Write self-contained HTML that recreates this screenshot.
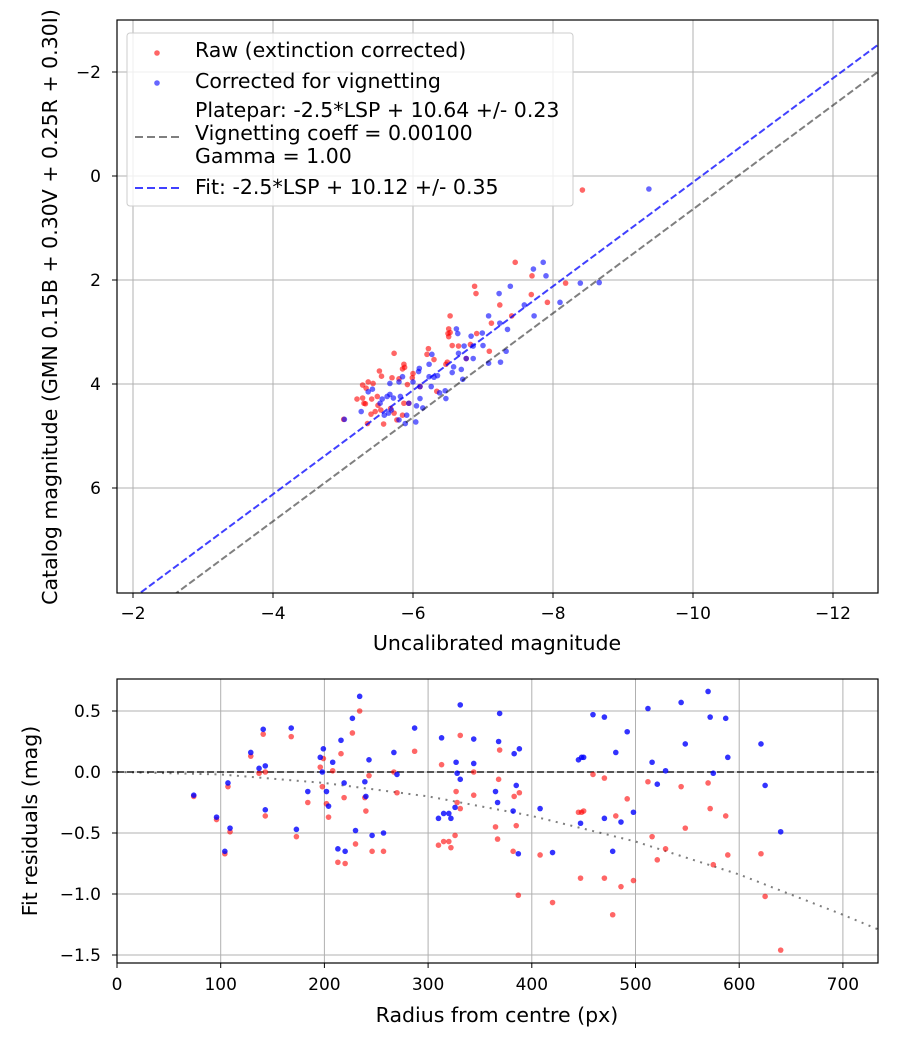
<!DOCTYPE html>
<html><head><meta charset="utf-8"><style>
body{margin:0;background:#fff}
svg{display:block;font-family:"DejaVu Sans","Liberation Sans",sans-serif}
</style></head><body>
<svg id="fig" width="900" height="1050" viewBox="0 0 900 1050">
<g id="top"></g>
<g id="bot"></g>
</svg>
<script>
const NS="http://www.w3.org/2000/svg";
// ---- top chart data ----
const redX=[-7.46,-7.70,-7.69,-6.88,-6.90,-7.24,-7.92,-8.18,-7.41,-7.12,-6.53,-6.51,-6.53,-6.50,-6.51,-6.91,-6.56,-6.65,-6.82,-7.09,-6.76,-6.22,-6.20,-6.30,-5.73,-6.49,-6.47,-5.87,-5.85,-5.88,-5.52,-5.55,-5.70,-6.00,-5.99,-5.43,-5.36,-5.28,-5.33,-5.92,-5.80,-6.10,-6.34,-5.20,-5.28,-5.30,-5.41,-5.49,-5.50,-5.54,-5.32,-5.68,-5.40,-5.46,-5.87,-5.01,-5.77,-5.58,-5.35,-5.85,-5.94,-5.73,-8.42];
const redY=[1.66,1.92,2.28,2.12,2.26,2.48,2.43,2.06,2.69,2.83,2.69,2.94,3.01,3.03,3.09,3.03,3.26,3.27,3.24,3.37,3.51,3.32,3.43,3.53,3.41,3.58,3.62,3.62,3.71,3.68,3.75,3.85,3.88,3.80,3.88,3.99,3.96,4.02,4.08,4.01,3.90,4.05,4.14,4.29,4.27,4.37,4.29,4.24,4.41,4.50,4.38,4.47,4.58,4.53,4.37,4.68,4.69,4.77,4.76,4.60,4.37,4.56,0.27];
const blueX=[-7.86,-7.72,-7.90,-8.39,-8.10,-7.39,-7.23,-7.73,-7.59,-7.08,-7.24,-7.35,-6.62,-6.64,-6.99,-6.83,-6.73,-6.86,-7.00,-6.65,-6.76,-6.86,-6.23,-6.27,-6.09,-6.08,-6.58,-6.56,-6.69,-6.35,-6.30,-6.23,-7.08,-7.25,-7.33,-6.71,-5.85,-5.80,-5.67,-6.00,-6.10,-6.26,-6.38,-6.47,-6.46,-5.42,-5.36,-5.67,-5.63,-5.72,-5.56,-5.53,-5.82,-5.94,-6.10,-6.14,-6.05,-5.91,-6.04,-5.80,-5.69,-5.59,-5.65,-5.26,-5.02,-5.89,-9.37,-8.66];
const blueY=[1.66,1.79,1.92,2.06,2.43,2.12,2.26,2.69,2.48,2.69,2.83,2.95,2.94,3.03,3.02,3.08,3.27,3.27,3.26,3.41,3.51,3.51,3.62,3.43,3.70,3.76,3.67,3.78,3.72,3.84,3.87,3.86,3.60,3.58,3.37,3.91,3.86,3.96,3.99,3.96,4.05,4.05,4.17,4.28,4.13,4.10,4.15,4.20,4.24,4.27,4.29,4.37,4.24,4.37,4.28,4.46,4.42,4.60,4.73,4.69,4.50,4.60,4.56,4.53,4.68,4.76,0.25,2.05];
const platepar=[10.64];
const fitOffset=[10.12];
const topXTicks=[-2,-4,-6,-8,-10,-12];
const topYTicks=[-2,0,2,4,6];
// ---- bottom chart data ----
const resR=[74,96,104,107,109,129,137,141,143,143,168,173,184,196,199,198,208,202,204,216,227,234,243,239,240,230,246,213,220,219,257,267,287,270,331,313,344,327,344,328,331,326,310,315,320,322,369,368,365,367,383,388,385,382,387,408,420,445,448,450,459,470,447,470,478,481,486,492,512,544,570,572,587,548,516,529,521,575,589,621,625,640,498];
const resBlue=[-0.19,-0.37,-0.65,-0.09,-0.46,0.16,0.03,0.35,0.05,-0.31,0.36,-0.47,-0.16,0.12,0.19,0.0,0.08,-0.16,-0.28,0.26,0.44,0.62,0.10,-0.08,-0.20,-0.48,-0.52,-0.63,-0.65,-0.09,-0.50,0.16,0.36,-0.02,0.55,0.28,0.27,0.08,0.07,-0.01,-0.06,-0.29,-0.38,-0.34,-0.34,-0.38,0.48,0.25,-0.16,-0.25,0.15,0.19,-0.11,-0.32,-0.67,-0.30,-0.66,0.10,0.12,0.12,0.47,0.45,-0.42,-0.38,-0.65,0.16,-0.41,0.33,0.52,0.57,0.66,0.45,0.44,0.23,0.08,0.01,-0.10,-0.01,0.12,0.23,-0.11,-0.49,-0.33];
const resRed=[-0.20,-0.39,-0.67,-0.12,-0.49,0.13,-0.01,0.31,0.0,-0.36,0.29,-0.53,-0.25,0.04,0.11,-0.12,0.01,-0.26,-0.37,0.15,0.32,0.50,-0.03,-0.21,-0.32,-0.59,-0.65,-0.74,-0.75,-0.21,-0.65,0.0,0.17,-0.17,0.30,0.06,0.0,-0.16,-0.19,-0.25,-0.30,-0.52,-0.60,-0.57,-0.57,-0.62,0.18,-0.06,-0.45,-0.55,-0.20,-0.17,-0.44,-0.65,-1.01,-0.68,-1.07,-0.33,-0.33,-0.32,-0.02,-0.05,-0.87,-0.87,-1.17,-0.36,-0.94,-0.22,-0.08,-0.12,-0.09,-0.30,-0.36,-0.46,-0.53,-0.63,-0.72,-0.76,-0.68,-0.67,-1.02,-1.46,-0.89];
const vigR=[0,100,200,300,400,500,600,700,734];
const vigY=[0,-0.02,-0.09,-0.2,-0.36,-0.57,-0.84,-1.17,-1.29];
const botXTicks=[0,100,200,300,400,500,600,700];
const botYTicks=[0.5,0,-0.5,-1.0,-1.5];
const botYLabels=["0.5","0.0","\u22120.5","\u22121.0","\u22121.5"];

function mk(p,tag,a,txt){const e=document.createElementNS(NS,tag);for(const k in a)e.setAttribute(k,a[k]);if(txt!==undefined)e.textContent=txt;p.appendChild(e);return e;}
const fmtNeg=v=>(v<0?"\u2212":"")+Math.abs(v);
const FS=17, TS=20.5;

// ===== TOP =====
const T=document.getElementById('top');
const tL=117,tR=878,tT=20,tB=593;
const tx=v=>-7-70*v;
const ty=v=>176+52*v;
const tcp=mk(T,'clipPath',{id:'ct'});mk(tcp,'rect',{x:tL,y:tT,width:tR-tL,height:tB-tT});
topXTicks.forEach(v=>{const g=mk(T,'line',{x1:tx(v),x2:tx(v),y1:tT,y2:tB,stroke:'#b0b0b0','stroke-width':1});

mk(T,'line',{x1:tx(v),x2:tx(v),y1:tB,y2:tB+5,stroke:'#000'});
const t=mk(T,'text',{x:tx(v),y:tB+26,'text-anchor':'middle','font-size':FS},fmtNeg(v));
});
topYTicks.forEach(v=>{const g=mk(T,'line',{x1:tL,x2:tR,y1:ty(v),y2:ty(v),stroke:'#b0b0b0','stroke-width':1});

mk(T,'line',{x1:tL-5,x2:tL,y1:ty(v),y2:ty(v),stroke:'#000'});
const t=mk(T,'text',{x:tL-16,y:ty(v)+6,'text-anchor':'end','font-size':FS},fmtNeg(v));
});
const tg=mk(T,'g',{'clip-path':'url(#ct)'});
redX.forEach((x,i)=>{const c=mk(tg,'circle',{cx:tx(x),cy:ty(redY[i]),r:2.8,fill:'#ff0000','fill-opacity':0.6});
});
blueX.forEach((x,i)=>{const c=mk(tg,'circle',{cx:tx(x),cy:ty(blueY[i]),r:2.8,fill:'#0000ff','fill-opacity':0.6});
});
const x0=-1.77,x1=-12.64;
let l=mk(tg,'line',{x1:tx(x0),y1:ty(x0+platepar[0]),x2:tx(x1),y2:ty(x1+platepar[0]),stroke:'#000','stroke-opacity':0.5,'stroke-width':2,'stroke-dasharray':'7,3'});

l=mk(tg,'line',{x1:tx(x0),y1:ty(x0+fitOffset[0]),x2:tx(x1),y2:ty(x1+fitOffset[0]),stroke:'#0000ff','stroke-opacity':0.75,'stroke-width':2,'stroke-dasharray':'7,3'});

mk(T,'rect',{x:tL,y:tT,width:tR-tL,height:tB-tT,fill:'none',stroke:'#000','stroke-width':1.2});
let t=mk(T,'text',{x:497,y:650,'text-anchor':'middle','font-size':TS},'Uncalibrated magnitude');

t=mk(T,'text',{x:0,y:0,'text-anchor':'middle','font-size':TS,transform:'translate(57,307) rotate(-90)'},'Catalog magnitude (GMN 0.15B + 0.30V + 0.25R + 0.30I)');

// legend
const L=mk(T,'g',{});
mk(L,'rect',{x:127,y:33,width:446,height:173,rx:3,fill:'#fff','fill-opacity':0.8,stroke:'#ccc'});
mk(L,'circle',{cx:157,cy:53,r:2.8,fill:'#ff0000','fill-opacity':0.6});
mk(L,'circle',{cx:157,cy:83,r:2.8,fill:'#0000ff','fill-opacity':0.6});
mk(L,'line',{x1:135,x2:180,y1:137,y2:137,stroke:'#000','stroke-opacity':0.5,'stroke-width':2,'stroke-dasharray':'8,4'});
mk(L,'line',{x1:135,x2:180,y1:188,y2:188,stroke:'#0000ff','stroke-opacity':0.75,'stroke-width':2,'stroke-dasharray':'8,4'});
[['Raw (extinction corrected)',57],['Corrected for vignetting',88],['Platepar: -2.5*LSP + 10.64 +/- 0.23',117],['Vignetting coeff = 0.00100',140],['Gamma = 1.00',163],['Fit: -2.5*LSP + 10.12 +/- 0.35',194]].forEach(([s,y])=>{
const e=mk(L,'text',{x:195,y:y,'font-size':TS},s);});

// ===== BOTTOM =====
const B=document.getElementById('bot');
const bL=117,bR=878,bT=679,bB=963;
const bx=v=>117+1.037*v;
const by=v=>772-122*v;
const bcp=mk(B,'clipPath',{id:'cb'});mk(bcp,'rect',{x:bL,y:bT,width:bR-bL,height:bB-bT});
botXTicks.forEach(v=>{const g=mk(B,'line',{x1:bx(v),x2:bx(v),y1:bT,y2:bB,stroke:'#b0b0b0'});

mk(B,'line',{x1:bx(v),x2:bx(v),y1:bB,y2:bB+5,stroke:'#000'});
const e=mk(B,'text',{x:bx(v),y:bB+27,'text-anchor':'middle','font-size':FS},String(v));
});
botYTicks.forEach((v,i)=>{const g=mk(B,'line',{x1:bL,x2:bR,y1:by(v),y2:by(v),stroke:'#b0b0b0'});

mk(B,'line',{x1:bL-5,x2:bL,y1:by(v),y2:by(v),stroke:'#000'});
const e=mk(B,'text',{x:bL-16,y:by(v)+6,'text-anchor':'end','font-size':FS},botYLabels[i]);
});
const bg=mk(B,'g',{'clip-path':'url(#cb)'});
l=mk(bg,'line',{x1:bL,x2:bR,y1:by(0),y2:by(0),stroke:'#000','stroke-opacity':0.6,'stroke-width':2,'stroke-dasharray':'7,3'});

l=mk(bg,'polyline',{points:vigR.map((r,i)=>bx(r)+','+by(vigY[i])).join(' '),fill:'none',stroke:'#000','stroke-opacity':0.5,'stroke-width':2,'stroke-dasharray':'2,5.5'});

resR.forEach((r,i)=>{const c=mk(bg,'circle',{cx:bx(r),cy:by(resRed[i]),r:2.8,fill:'#ff0000','fill-opacity':0.6});
});
resR.forEach((r,i)=>{const c=mk(bg,'circle',{cx:bx(r),cy:by(resBlue[i]),r:2.8,fill:'#0000ff','fill-opacity':0.8});
});
mk(B,'rect',{x:bL,y:bT,width:bR-bL,height:bB-bT,fill:'none',stroke:'#000','stroke-width':1.2});
t=mk(B,'text',{x:497,y:1022,'text-anchor':'middle','font-size':TS},'Radius from centre (px)');

t=mk(B,'text',{x:0,y:0,'text-anchor':'middle','font-size':TS,transform:'translate(37,821) rotate(-90)'},'Fit residuals (mag)');

</script>
</body></html>
